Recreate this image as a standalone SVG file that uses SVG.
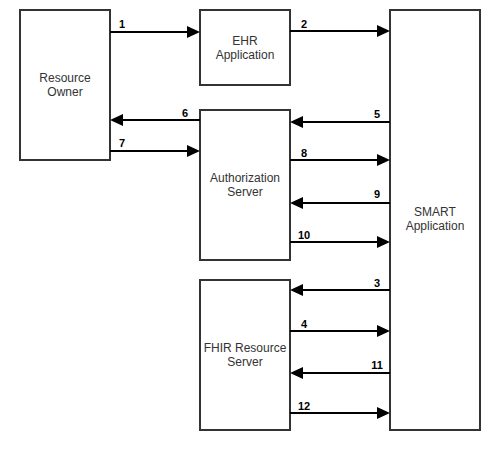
<svg xmlns="http://www.w3.org/2000/svg" width="500" height="463" viewBox="0 0 500 463">
<style>
.box{fill:#fff;stroke:#333;stroke-width:2}
.lbl{font-family:"Liberation Sans",Arial,sans-serif;font-size:12px;fill:#333;text-anchor:middle}
.num{font-family:"Liberation Sans",Arial,sans-serif;font-size:11px;font-weight:bold;fill:#000;text-anchor:middle}
.edge{stroke:#000;stroke-width:2;fill:none;marker-end:url(#ah)}
</style>
<defs>
<marker id="ah" markerUnits="userSpaceOnUse" viewBox="0 0 13 12" markerWidth="13" markerHeight="12" refX="1" refY="6" orient="auto">
<path d="M0,0 L13,6 L0,12 Z" fill="#000"/>
</marker>
</defs>
<rect width="500" height="463" fill="#fff"/>
<g id="resource-owner">
<rect class="box" x="20" y="10" width="90" height="150"/>
<text class="lbl" x="65" y="82">Resource</text>
<text class="lbl" x="65" y="96">Owner</text>
</g>
<g id="ehr-application">
<rect class="box" x="200" y="10" width="90" height="75"/>
<text class="lbl" x="245" y="45">EHR</text>
<text class="lbl" x="245" y="59">Application</text>
</g>
<g id="authorization-server">
<rect class="box" x="200" y="110" width="90" height="150"/>
<text class="lbl" x="245" y="182">Authorization</text>
<text class="lbl" x="245" y="196">Server</text>
</g>
<g id="fhir-resource-server">
<rect class="box" x="200" y="280" width="90" height="150"/>
<text class="lbl" x="245" y="352">FHIR Resource</text>
<text class="lbl" x="245" y="366">Server</text>
</g>
<g id="smart-application">
<rect class="box" x="390" y="10" width="90" height="420"/>
<text class="lbl" x="435" y="216">SMART</text>
<text class="lbl" x="435" y="230">Application</text>
</g>
<g id="connectors">
<path class="edge" d="M110,32 H188"/>
<path class="edge" d="M290,31 H378"/>
<path class="edge" d="M200,120 H122"/>
<path class="edge" d="M110,151 H188"/>
<path class="edge" d="M390,122 H302"/>
<path class="edge" d="M290,160 H378"/>
<path class="edge" d="M390,203 H302"/>
<path class="edge" d="M290,242 H378"/>
<path class="edge" d="M390,290 H302"/>
<path class="edge" d="M290,331 H378"/>
<path class="edge" d="M390,373 H302"/>
<path class="edge" d="M290,413 H378"/>
<text class="num" x="122" y="28">1</text>
<text class="num" x="304" y="28">2</text>
<text class="num" x="185" y="117">6</text>
<text class="num" x="122" y="147">7</text>
<text class="num" x="377" y="118">5</text>
<text class="num" x="304" y="157">8</text>
<text class="num" x="377" y="198">9</text>
<text class="num" x="304" y="239">10</text>
<text class="num" x="377" y="287">3</text>
<text class="num" x="304" y="328">4</text>
<text class="num" x="377" y="369">11</text>
<text class="num" x="304" y="410">12</text>
</g>
</svg>
